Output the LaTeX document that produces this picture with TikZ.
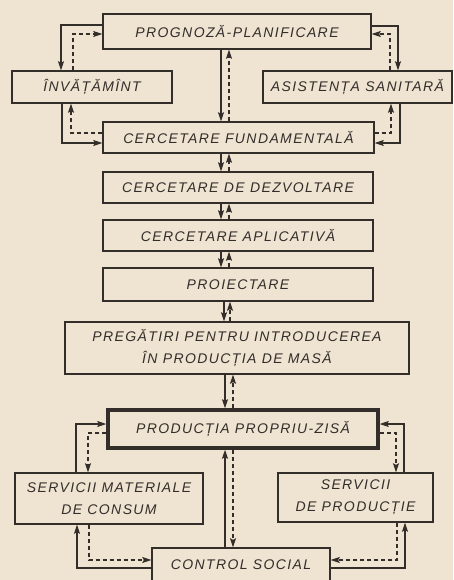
\documentclass[tikz,border=0pt]{standalone}
\usepackage{fontspec}
\setmainfont{Liberation Sans}
\newfontfamily\labfont[LetterSpace=10]{Liberation Sans}
\usetikzlibrary{arrows.meta,calc}
\definecolor{paper}{HTML}{EFE3D2}
\definecolor{ink}{HTML}{332E2A}
\tikzset{
 box/.style={draw=ink, line width=1.4pt, rectangle, inner sep=0pt,
   font=\labfont\itshape\fontsize{14}{22}\selectfont, text=ink, align=center},
 sol/.style={draw=ink, line width=1.2pt, -{Stealth[length=9pt,width=6pt,inset=1.5pt]}},
 dsh/.style={sol, dash pattern=on 4pt off 3pt},
}
\begin{document}
\begin{tikzpicture}[x=1pt,y=-1pt]
\useasboundingbox (0,0) rectangle (453,580);
\clip (0,0) rectangle (453,580);
\fill[paper] (0,0) rectangle (453,580);

\node[box, minimum width=268pt, minimum height=35pt] (prog) at (237,31.5) {PROGNOZĂ-PLANIFICARE};
\node[box, minimum width=160pt, minimum height=32pt] (inv) at (92,87) {ÎNVĂȚĂMÎNT};
\node[box, minimum width=189pt, minimum height=32pt] (asis) at (357.5,87) {ASISTENȚA SANITARĂ};
\node[box, minimum width=271pt, minimum height=31pt] (cf) at (238.5,137.5) {CERCETARE FUNDAMENTALĂ};
\node[box, minimum width=270pt, minimum height=31pt] (cd) at (238,187.5) {CERCETARE DE DEZVOLTARE};
\node[box, minimum width=270pt, minimum height=31pt] (ca) at (238,235.5) {CERCETARE APLICATIVĂ};
\node[box, minimum width=270pt, minimum height=33pt] (pro) at (238,284.5) {PROIECTARE};
\node[box, minimum width=344pt, minimum height=52pt] (preg) at (237,348) {PREGĂTIRI PENTRU INTRODUCEREA\\ÎN PRODUCȚIA DE MASĂ};
\node[box, line width=3.5pt, minimum width=270pt, minimum height=38pt] (prod) at (243,429) {PRODUCȚIA PROPRIU-ZISĂ};
\node[box, minimum width=188pt, minimum height=51pt] (smat) at (109,498.5) {SERVICII MATERIALE\\DE CONSUM};
\node[box, minimum width=155pt, minimum height=49pt] (sprod) at (355.5,497.5) {SERVICII\\DE PRODUCȚIE};
\node[box, minimum width=178pt, minimum height=34pt] (cs) at (241,565) {CONTROL SOCIAL};

% top centre
\draw[sol] (prog.south -| 221,0) -- (cf.north -| 221,0);
\draw[dsh] (cf.north -| 229,0) -- (prog.south -| 229,0);
% top left / right
\draw[sol] (prog.west |- 0,25) -| (inv.north -| 61,0);
\draw[dsh] (inv.north -| 73,0) |- (prog.west |- 0,34);
\draw[sol] (prog.east |- 0,26) -| (asis.north -| 398,0);
\draw[dsh] (asis.north -| 390,0) |- (prog.east |- 0,34);
% lower left / right
\draw[sol] (inv.south -| 62,0) |- (cf.west |- 0,143);
\draw[dsh] (cf.west |- 0,133) -| (inv.south -| 71,0);
\draw[sol] (asis.south -| 400,0) |- (cf.east |- 0,143);
\draw[dsh] (cf.east |- 0,133) -| (asis.south -| 391,0);
% column
\draw[sol] (cf.south -| 221,0) -- (cd.north -| 221,0);
\draw[dsh] (cd.north -| 229,0) -- (cf.south -| 229,0);
\draw[sol] (cd.south -| 221,0) -- (ca.north -| 221,0);
\draw[dsh] (ca.north -| 229,0) -- (cd.south -| 229,0);
\draw[sol] (ca.south -| 221,0) -- (pro.north -| 221,0);
\draw[dsh] (pro.north -| 229,0) -- (ca.south -| 229,0);
\draw[sol] (pro.south -| 224,0) -- (preg.north -| 224,0);
\draw[dsh] (preg.north -| 230,0) -- (pro.south -| 230,0);
\draw[sol] (preg.south -| 225,0) -- (prod.north -| 225,0);
\draw[dsh] (prod.north -| 233,0) -- (preg.south -| 233,0);
% bottom
\draw[sol] (smat.north -| 76,0) |- (prod.west |- 0,424);
\draw[dsh] (prod.west |- 0,433) -| (smat.north -| 88,0);
\draw[sol] (sprod.north -| 404,0) |- (prod.east |- 0,424);
\draw[dsh] (prod.east |- 0,433) -| (sprod.north -| 396,0);
\draw[sol] (cs.north -| 225,0) -- (prod.south -| 225,0);
\draw[dsh] (prod.south -| 233,0) -- (cs.north -| 233,0);
\draw[sol] (cs.west |- 0,568) -| (smat.south -| 77,0);
\draw[dsh] (smat.south -| 89,0) |- (cs.west |- 0,560);
\draw[sol] (cs.east |- 0,568) -| (sprod.south -| 405,0);
\draw[dsh] (sprod.south -| 397,0) |- (cs.east |- 0,560);
\end{tikzpicture}
\end{document}
